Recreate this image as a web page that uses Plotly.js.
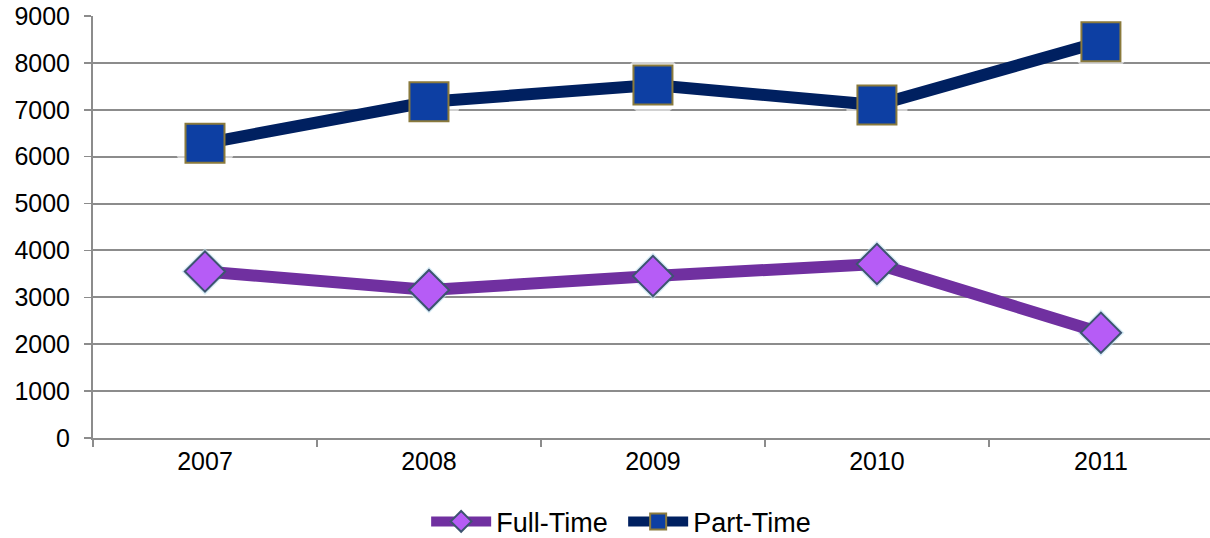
<!DOCTYPE html>
<html>
<head>
<meta charset="utf-8">
<script src="https://cdn.plot.ly/plotly-3.0.1.min.js"></script>
<style>html,body{margin:0;padding:0;background:#fff;}#chart{width:1210px;height:538px;}</style>
</head>
<body>
<div id="chart"></div>
<script>
const years = ['2007', '2008', '2009', '2010', '2011'];
const fullTime = [3550, 3155, 3455, 3710, 2245];
const partTime = [6285, 7170, 7530, 7100, 8450];
const yTicks = [0, 1000, 2000, 3000, 4000, 5000, 6000, 7000, 8000, 9000];

const font = {family: '"Liberation Sans", Arial, sans-serif', size: 25, color: '#000'};
const legendFont = {family: '"Liberation Sans", Arial, sans-serif', size: 27, color: '#000'};

const traces = [
  {x: years, y: partTime, mode: 'markers', showlegend: false, hoverinfo: 'skip',
   marker: {symbol: 'circle', size: 62, color: 'rgba(255,255,255,0.6)', line: {width: 0}}},
  {x: years, y: fullTime, mode: 'markers', showlegend: false, hoverinfo: 'skip',
   marker: {symbol: 'diamond', size: 36, color: 'rgba(190,225,240,0.6)', line: {width: 0}}},
  {x: years, y: fullTime, name: 'Full-Time', mode: 'lines+markers',
   line: {color: '#7030A0', width: 12},
   marker: {symbol: 'diamond', size: 31, color: '#B65CF6', line: {color: '#3D5470', width: 2}}},
  {x: years, y: partTime, name: 'Part-Time', mode: 'lines+markers',
   line: {color: '#002060', width: 12},
   marker: {symbol: 'square', size: 39, color: '#0D3FA3', line: {color: '#8A7A3C', width: 2}}}
];

const layout = {
  width: 1210, height: 538,
  margin: {l: 93, r: 0, t: 16, b: 100},
  paper_bgcolor: '#fff', plot_bgcolor: '#fff',
  font: font,
  showlegend: true,
  legend: {orientation: 'h', xref: 'container', yref: 'container', x: 0.515, xanchor: 'center',
           y: 0.03, yanchor: 'middle', itemwidth: 60, font: legendFont, traceorder: 'normal',
           entrywidth: 122, entrywidthmode: 'pixels'},
  xaxis: {type: 'category', range: [-0.5, 4.487], tickson: 'boundaries', ticks: 'outside',
          ticklen: 7, tickwidth: 1.5, tickcolor: '#8c8c8c', showgrid: false,
          showline: true, linecolor: '#8c8c8c', linewidth: 2, tickfont: font, fixedrange: true},
  yaxis: {range: [0, 9000], tickvals: yTicks, ticktext: yTicks.map(String), ticks: 'outside',
          ticklen: 7, tickwidth: 1.5, tickcolor: '#8c8c8c', showgrid: true, gridcolor: '#8c8c8c',
          gridwidth: 2, zeroline: false, showline: true, linecolor: '#8c8c8c', linewidth: 2,
          tickfont: font, ticklabelstandoff: 9, fixedrange: true}
};

Plotly.newPlot('chart', traces, layout, {displayModeBar: false, staticPlot: true});
</script>
</body>
</html>
